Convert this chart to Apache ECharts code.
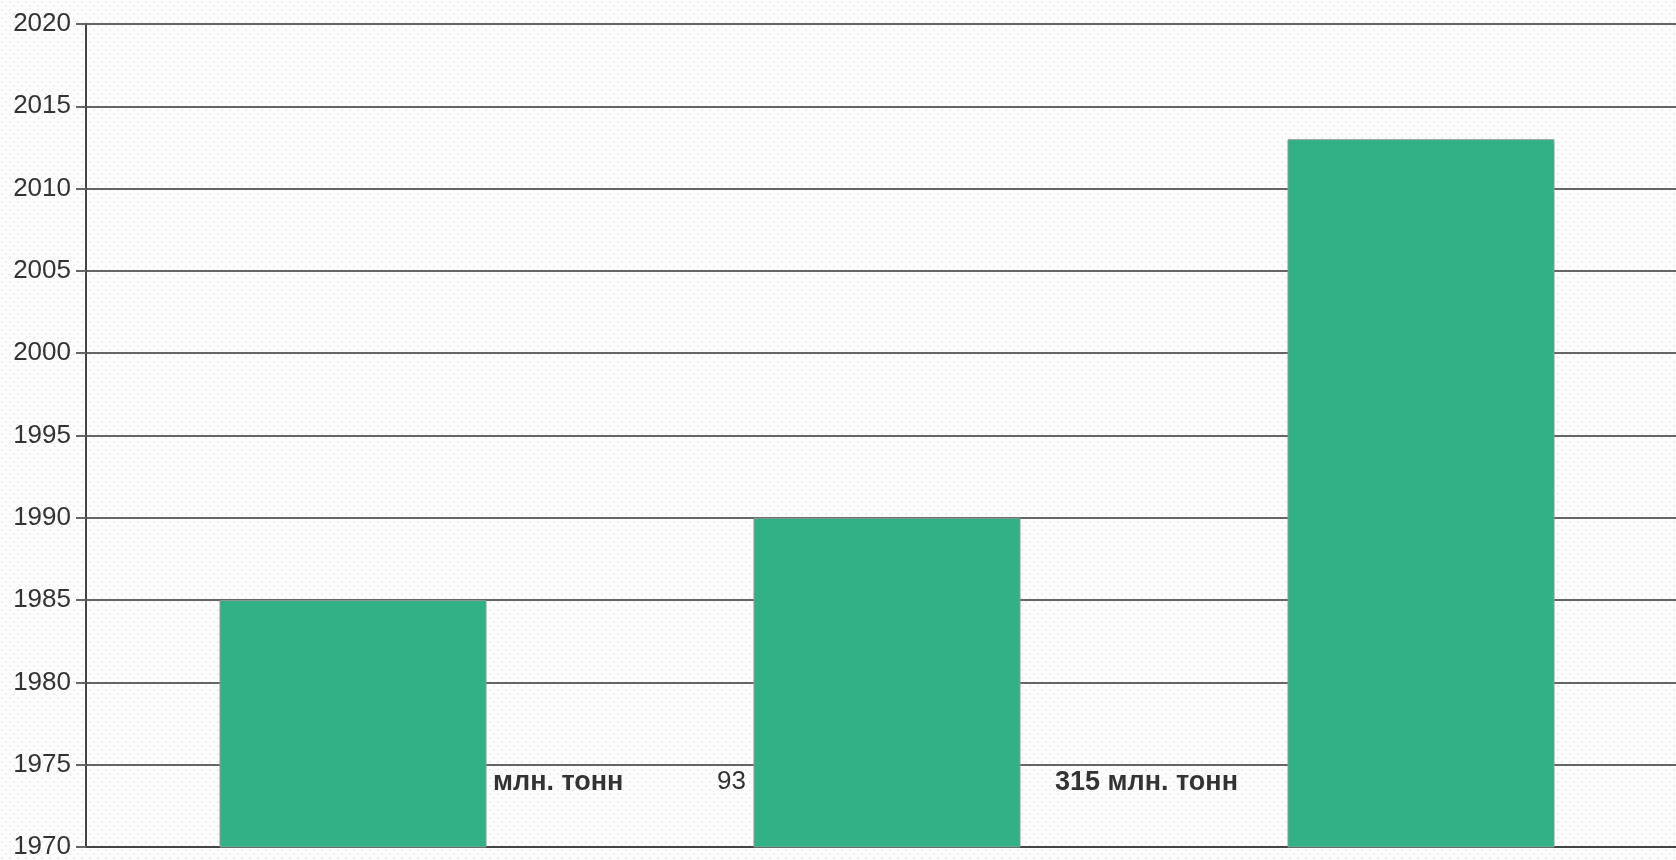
<!DOCTYPE html>
<html>
<head>
<meta charset="utf-8">
<script src="https://cdn.jsdelivr.net/npm/echarts@6/dist/echarts.min.js"></script>
<style>
html,body{margin:0;padding:0;background:#fff;overflow:hidden;}
#main{width:1688px;height:860px;}
</style>
</head>
<body>
<div id="main"></div>
<script>
var categories = ['A', 'B', 'C'];
var years = [1985, 1990, 2013];
var yTicks = { min: 1970, max: 2020, interval: 5 };
var notes = ['млн. тонн', '93', '315 млн. тонн'];

// subtle dotted background texture
var tile = document.createElement('canvas');
tile.width = 8; tile.height = 8;
var c = tile.getContext('2d');
c.fillStyle = '#fdfdfd'; c.fillRect(0, 0, 8, 8);
c.fillStyle = '#efefef';
c.fillRect(1, 1, 2, 2);
c.fillRect(5, 5, 2, 2);

var FONT = 'Liberation Sans, Arial, sans-serif';
var chart = echarts.init(document.getElementById('main'));
chart.setOption({
  backgroundColor: { image: tile, repeat: 'repeat' },
  animation: false,
  grid: { left: 86, right: 0, top: 24, bottom: 13, containLabel: false },
  xAxis: {
    type: 'category',
    data: categories,
    axisLine: { show: true, lineStyle: { color: '#444', width: 2 } },
    axisTick: { show: false },
    axisLabel: { show: false },
    splitLine: { show: false }
  },
  yAxis: {
    type: 'value',
    min: yTicks.min, max: yTicks.max, interval: yTicks.interval,
    axisLine: { show: true, lineStyle: { color: '#444', width: 2 } },
    axisTick: { show: true, length: 10, lineStyle: { color: '#666', width: 2 } },
    axisLabel: { color: '#333', fontSize: 26, fontFamily: FONT, margin: 15, formatter: function (v) { return String(v); } },
    splitLine: { show: true, lineStyle: { color: '#666', width: 2 } }
  },
  series: [{
    type: 'bar',
    data: years,
    barWidth: '50%',
    itemStyle: { color: '#32b086', borderColor: '#8a9a92', borderWidth: 1 }
  }],
  graphic: [
    { type: 'text', left: 493, top: 769, style: { text: notes[0], fontSize: 27, fontWeight: 'bold', fill: '#333', fontFamily: FONT } },
    { type: 'text', left: 717, top: 769, style: { text: notes[1], fontSize: 26, fill: '#333', fontFamily: FONT } },
    { type: 'text', left: 1055, top: 769, style: { text: notes[2], fontSize: 27, fontWeight: 'bold', fill: '#333', fontFamily: FONT } }
  ]
});
</script>
</body>
</html>
